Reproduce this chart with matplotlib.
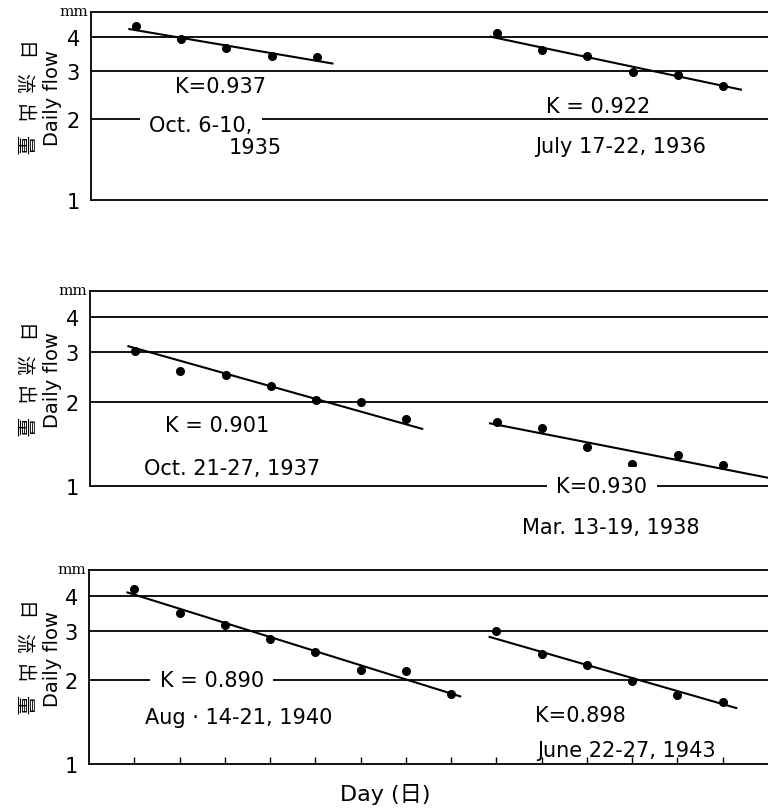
"""Recession of daily flow for six dry spells, three semi-log panels."""

import numpy as np
import matplotlib.pyplot as plt
from matplotlib.ticker import FixedLocator, NullLocator

plt.rcParams["font.family"] = ["DejaVu Sans", "Noto Sans CJK JP"]

# ---------- values ----------
days_oct_1935 = [1, 2, 3, 4, 5]
flow_oct_1935 = [4.39, 3.94, 3.64, 3.41, 3.37]
days_jul_1936 = [9, 10, 11, 12, 13, 14]
flow_jul_1936 = [4.16, 3.58, 3.41, 2.99, 2.90, 2.65]

days_oct_1937 = [1, 2, 3, 4, 5, 6, 7]
flow_oct_1937 = [3.02, 2.57, 2.49, 2.27, 2.03, 1.99, 1.74]
days_mar_1938 = [9, 10, 11, 12, 13, 14]
flow_mar_1938 = [1.69, 1.61, 1.38, 1.20, 1.29, 1.19]

days_aug_1940 = [1, 2, 3, 4, 5, 6, 7, 8]
flow_aug_1940 = [4.25, 3.49, 3.16, 2.81, 2.53, 2.18, 2.15, 1.78]
days_jun_1943 = [9, 10, 11, 12, 13, 14]
flow_jun_1943 = [2.99, 2.48, 2.27, 1.98, 1.77, 1.67]

k_oct_1935, k_jul_1936 = 0.937, 0.922
k_oct_1937, k_mar_1938 = 0.901, 0.930
k_aug_1940, k_jun_1943 = 0.890, 0.898

y_ticks = [1, 2, 3, 4]
grid_levels = [2, 3, 4]
day_ticks = list(range(1, 15))
jp_label = "日流出量"
# -----------------------------------------------

fig_w, fig_h = 768, 812
x_max = 15.0
y_lim = (1, 4.95)
jp_pitch = 31  # px between the stacked Japanese characters


def decay_line(days, flow, k, start, end):
    """Line of constant recession factor k through the points (log space)."""
    days = np.asarray(days, dtype=float)
    log_k = np.log10(k)
    a = np.mean(np.log10(flow) - (days - days[0]) * log_k)
    t = np.array([start, end])
    return t, 10 ** (a + (t - days[0]) * log_k)


panels = [
    {
        "rect": (91, 201.3, 188),
        "series": [
            (days_oct_1935, flow_oct_1935, k_oct_1935, 0.35),
            (days_jul_1936, flow_jul_1936, k_jul_1936, 0.4),
        ],
        "notes": [
            (f"K={k_oct_1935}", 0.192, 0.61, False),
            ("Oct. 6-10,", 0.162, 0.40, True),
            ("1935", 0.242, 0.283, False),
            (f"K = {k_jul_1936}", 0.749, 0.50, False),
            ("July 17-22, 1936", 0.783, 0.29, False),
        ],
        "xticks": False,
    },
    {
        "rect": (90, 487.1, 195),
        "series": [
            (days_oct_1937, flow_oct_1937, k_oct_1937, 0.35),
            (days_mar_1938, flow_mar_1938, k_mar_1938, 1.0),
        ],
        "notes": [
            (f"K = {k_oct_1937}", 0.187, 0.315, False),
            ("Oct. 21-27, 1937", 0.209, 0.095, False),
            (f"K={k_mar_1938:.3f}", 0.755, 0.0, True),
            ("Mar. 13-19, 1938", 0.768, -0.208, False),
        ],
        "xticks": False,
    },
    {
        "rect": (89, 765.3, 194),
        "series": [
            (days_aug_1940, flow_aug_1940, k_aug_1940, 0.2),
            (days_jun_1943, flow_jun_1943, k_jun_1943, 0.3),
        ],
        "notes": [
            (f"K = {k_aug_1940:.3f}", 0.181, 0.432, True),
            ("Aug · 14-21, 1940", 0.221, 0.242, False),
            (f"K={k_jun_1943}", 0.724, 0.256, False),
            ("June 22-27, 1943", 0.791, 0.074, False),
        ],
        "xticks": True,
    },
]

fig = plt.figure(figsize=(fig_w / 100, fig_h / 100), dpi=100)

for panel in panels:
    left_px, bottom_px, height_px = panel["rect"]
    ax = fig.add_axes(
        [
            left_px / fig_w,
            (fig_h - bottom_px) / fig_h,
            (fig_w - left_px) / fig_w,
            height_px / fig_h,
        ]
    )
    ax.set_yscale("log")
    ax.set_ylim(*y_lim)
    ax.set_xlim(0, x_max)

    for level in grid_levels:
        ax.axhline(level, color="black", lw=1.3, zorder=1)

    for days, flow, k, tail in panel["series"]:
        t, fit = decay_line(days, flow, k, days[0] - 0.15, min(days[-1] + tail, x_max))
        ax.plot(t, fit, color="black", lw=1.5, zorder=2, clip_on=False)
        ax.plot(days, flow, "o", color="black", ms=5.5, zorder=2)

    for text, fx, fy, boxed in panel["notes"]:
        kw = {}
        if boxed:
            kw["bbox"] = dict(boxstyle="square,pad=0.45", fc="white", ec="none")
        ax.text(fx, fy, text, transform=ax.transAxes, ha="center", va="center",
                fontsize=15, zorder=4, clip_on=False, **kw)

    ax.yaxis.set_major_locator(FixedLocator(y_ticks))
    ax.yaxis.set_minor_locator(NullLocator())
    ax.set_yticklabels([str(v) for v in y_ticks])
    ax.tick_params(axis="y", length=0, pad=8, labelsize=15)

    if panel["xticks"]:
        ax.set_xticks(day_ticks)
        ax.set_xticklabels([])
        ax.tick_params(axis="x", direction="in", length=5, width=1)
    else:
        ax.set_xticks([])

    ax.spines["right"].set_visible(False)
    for side in ("left", "bottom", "top"):
        ax.spines[side].set_linewidth(1.3)

    ax.text(-0.004, 1.005, "mm", transform=ax.transAxes, ha="right", va="center",
            fontsize=11, family="DejaVu Serif")

    pos = ax.get_position()
    label_y = pos.y0 + 0.55 * pos.height
    fig.text(52 / fig_w, label_y, "Daily flow", rotation=90, ha="center",
             va="center", fontsize=14)
    offsets = (np.arange(len(jp_label)) - (len(jp_label) - 1) / 2) * jp_pitch
    for char, off in zip(jp_label, offsets):
        fig.text(23 / fig_w, label_y - off / fig_h, char, rotation=270,
                 ha="center", va="center", fontsize=14,
                 family=["Noto Sans CJK JP"])

fig.text(385 / fig_w, 17 / fig_h, "Day (日)", ha="center", va="center", fontsize=16)

fig.savefig("out.png", dpi=100, facecolor="white")
